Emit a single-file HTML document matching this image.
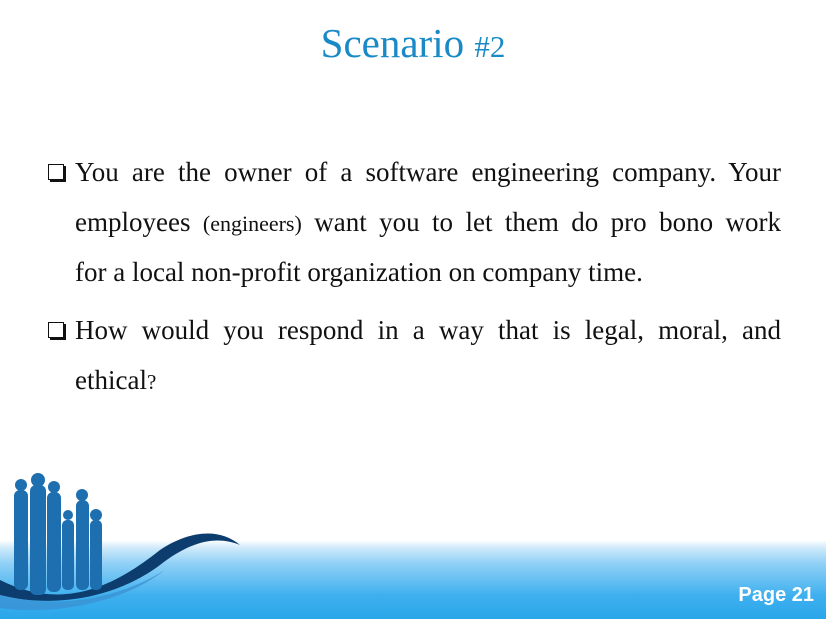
<!DOCTYPE html>
<html><head><meta charset="utf-8"><style>
body{margin:0;width:826px;height:619px;overflow:hidden;background:#fff;position:relative;font-family:"Liberation Serif",serif}
#title{position:absolute;top:19px;left:0;width:826px;text-align:center;font-size:41px;color:#1a8ac6}
#title span{font-size:31px}
.item{position:absolute;left:75px;width:706px;font-size:27px;color:#111}
.ln{height:50px;line-height:50px;white-space:nowrap}
.j{text-align:justify;text-align-last:justify;white-space:normal}
.box{position:absolute;left:-27px;top:17px;width:14px;height:14px;border:1.5px solid #111;box-shadow:2px 2px 0 #111}
#band{position:absolute;left:0;top:540px;width:826px;height:79px;background:linear-gradient(to bottom,#fff 0%,#cfeafb 10%,#8fd0f6 30%,#3fb0ee 70%,#2aa6ea 100%)}
#page{position:absolute;right:12px;top:584px;font-family:"Liberation Sans",sans-serif;font-weight:bold;font-size:20px;color:#fff}
</style></head><body>
<div id="title">Scenario <span>#2</span></div>
<div class="item" style="top:147px"><div class="box"></div>
<div class="ln j">You are the owner of a software engineering company. Your</div>
<div class="ln j">employees <small style="font-size:22px">(engineers)</small> want you to let them do pro bono work</div>
<div class="ln">for a local non-profit organization on company time.</div></div>
<div class="item" style="top:305px"><div class="box"></div>
<div class="ln j">How would you respond in a way that is legal, moral, and</div>
<div class="ln">ethical<small style="font-size:21px">?</small></div></div>
<div id="band"></div>
<svg style="position:absolute;left:0;top:470px" width="260" height="149">
<path d="M0,110 C60,140 110,120 160,80 C190,60 220,58 240,75 C215,65 190,72 160,95 C120,125 60,140 0,125Z" fill="#0d3d6e"/>
<path d="M0,125 C60,140 120,128 165,100 C120,135 50,145 0,138Z" fill="#3a8fd0" opacity=".7"/>
<g fill="#1d6fb0">
<rect x="14" y="20" width="14" height="100" rx="6"/><circle cx="21" cy="15" r="6"/>
<rect x="30" y="15" width="16" height="110" rx="6"/><circle cx="38" cy="10" r="7"/>
<rect x="47" y="22" width="14" height="100" rx="6"/><circle cx="54" cy="17" r="6"/>
<rect x="62" y="50" width="12" height="70" rx="5"/><circle cx="68" cy="45" r="5"/>
<rect x="76" y="30" width="13" height="90" rx="6"/><circle cx="82" cy="25" r="6"/>
<rect x="90" y="50" width="12" height="70" rx="5"/><circle cx="96" cy="45" r="6"/>
</g></svg>
<div id="page">Page 21</div>
</body></html>
